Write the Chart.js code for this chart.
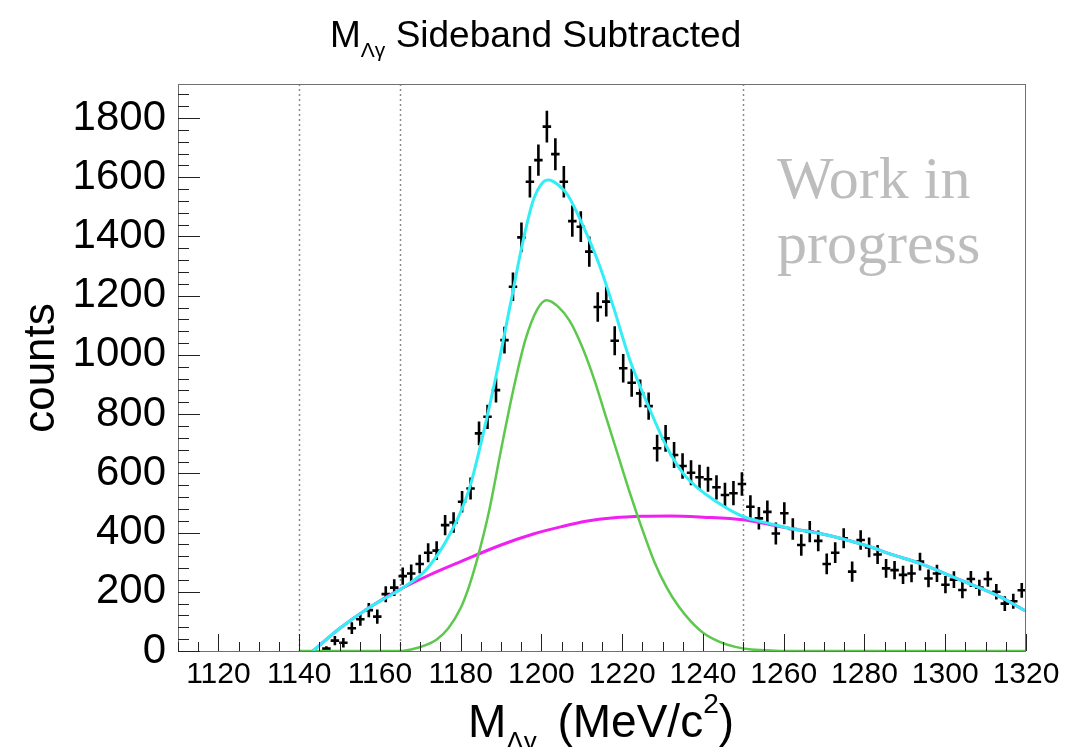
<!DOCTYPE html>
<html>
<head>
<meta charset="utf-8">
<script src="https://cdn.jsdelivr.net/npm/chart.js@4.4.1/dist/chart.umd.min.js"></script>
<style>
  body { margin: 0; background: #fff; }
  #wrap { width: 1069px; height: 747px; }
</style>
</head>
<body>
<div id="wrap"><canvas id="massChart" width="1069" height="747"></canvas></div>
<script>
// histogram: 100 bins of 2.1 MeV between 1110 and 1320, filled from bin 17 on
var histLo = 1110, binWidth = 2.1, firstBin = 17;

var counts = [
  8, 35, 28, 77, 107, 138, 116, 192, 214, 253,
  262, 294, 332, 339, 425, 434, 504, 549, 735, 791,
  881, 1050, 1230, 1397, 1585, 1658, 1771, 1678, 1585, 1452,
  1433, 1349, 1162, 1180, 1048, 955, 906, 870, 827, 685,
  718, 662, 625, 602, 587, 580, 553, 527, 533, 564,
  487, 448, 470, 397, 465, 412, 358, 403, 372, 294,
  332, 381, 268, 375, 350, 326, 279, 273, 257, 262,
  302, 245, 262, 224, 241, 206, 243, 214, 243, 200,
  160, 168, 205
];
var countErrs = [
  8, 16, 16, 20, 22, 24, 24, 27, 28, 29,
  30, 31, 32, 32, 34, 35, 36, 37, 40, 41,
  42, 45, 48, 50, 53, 53, 54, 54, 53, 53,
  52, 51, 50, 50, 49, 48, 47, 47, 46, 45,
  45, 44, 43, 42, 42, 42, 41, 41, 41, 40,
  39, 38, 38, 37, 37, 36, 36, 36, 35, 35,
  35, 34, 34, 33, 33, 32, 32, 31, 31, 30,
  30, 30, 29, 29, 28, 28, 27, 27, 26, 26,
  25, 25, 25
];

// fit curves, read at sample masses
var totalX = [1143.4, 1150, 1157.5, 1165, 1171, 1175, 1178, 1180, 1182.3, 1185.6,
  1188.9, 1192.2, 1195.5, 1198, 1200.5, 1201.8, 1204.2, 1206.5, 1210.4, 1214.5,
  1217.8, 1221.9, 1226.9, 1231, 1235.1, 1239.3, 1243.4, 1247.5, 1250.8, 1256,
  1261.6, 1269, 1274, 1281.4, 1286.3, 1293.7, 1303.7, 1313.6, 1319.8];
var totalY = [0, 76, 148, 208, 268, 340, 412, 470, 555, 735,
  938, 1163, 1388, 1523, 1585, 1591, 1574, 1540, 1433, 1298,
  1163, 983, 814, 690, 600, 544, 504, 470, 450, 432,
  414, 397, 381, 352, 328, 296, 240, 183, 136];

var bkgX = [1143.4, 1150, 1157.5, 1165, 1172, 1180, 1190, 1198, 1205, 1211,
  1218, 1225, 1232, 1240, 1250, 1256, 1261.6, 1269, 1274, 1281.4,
  1286.3, 1293.7, 1303.7, 1313.6, 1319.8];
var bkgY = [0, 76, 148, 208, 255, 302, 358, 395, 420, 438,
  450, 455, 456, 452, 443, 429, 414, 397, 381, 352,
  328, 296, 240, 183, 136];

var sigX = [1140, 1165, 1168, 1171, 1174, 1177, 1180, 1182, 1184, 1187,
  1190, 1193, 1196, 1199, 1201.3, 1204, 1207, 1210, 1213, 1216,
  1219, 1222, 1225, 1228, 1231, 1234, 1237, 1240, 1244, 1248,
  1252, 1258, 1265, 1320];
var sigY = [0, 0, 6, 18, 38, 78, 145, 215, 305, 470,
  680, 880, 1050, 1155, 1185, 1165, 1115, 1030, 920, 790,
  660, 530, 410, 300, 215, 150, 100, 62, 32, 14,
  5, 1, 0, 0];

// sideband / signal window edges
var windowEdges = [1140, 1165, 1250];

var xTicks = [1120, 1140, 1160, 1180, 1200, 1220, 1240, 1260, 1280, 1300, 1320];
var yTicks = [0, 200, 400, 600, 800, 1000, 1200, 1400, 1600, 1800];

var sans = '"Liberation Sans", Arial, Helvetica, sans-serif';

function pairs(xs, ys) {
  return xs.map(function(v, i) { return { x: v, y: ys[i] }; });
}

var histPoints = counts.map(function(c, i) {
  return { x: histLo + binWidth * (firstBin + i + 0.5), y: c, err: countErrs[i] };
});

function drawRich(ctx, parts, x, baseline) {
  parts.forEach(function(p) {
    ctx.font = p.size + 'px ' + sans;
    ctx.fillText(p.t, x, baseline + (p.dy || 0));
    x += ctx.measureText(p.t).width + (p.gap || 0);
  });
}

var rootFrame = {
  id: 'rootFrame',
  beforeDatasetsDraw: function(chart) {
    var ctx = chart.ctx, a = chart.chartArea;
    var xs = chart.scales.x, ys = chart.scales.y;
    ctx.save();
    ctx.beginPath();
    ctx.rect(a.left, a.top, a.right - a.left, a.bottom - a.top);
    ctx.clip();

    // dotted window lines
    ctx.strokeStyle = '#8a8a8a';
    ctx.lineWidth = 1.5;
    ctx.setLineDash([2, 3]);
    windowEdges.forEach(function(m) {
      var px = Math.round(xs.getPixelForValue(m)) + 0.5;
      ctx.beginPath();
      ctx.moveTo(px, a.top);
      ctx.lineTo(px, a.bottom);
      ctx.stroke();
    });
    ctx.setLineDash([]);

    // error bars
    ctx.strokeStyle = '#000';
    ctx.lineWidth = 2.6;
    histPoints.forEach(function(p) {
      var px = xs.getPixelForValue(p.x), py = ys.getPixelForValue(p.y);
      ctx.beginPath();
      ctx.moveTo(xs.getPixelForValue(p.x - binWidth / 2), py);
      ctx.lineTo(xs.getPixelForValue(p.x + binWidth / 2), py);
      ctx.moveTo(px, ys.getPixelForValue(p.y - p.err));
      ctx.lineTo(px, ys.getPixelForValue(p.y + p.err));
      ctx.stroke();
    });
    ctx.restore();
  },
  afterDatasetsDraw: function(chart) {
    var ctx = chart.ctx, a = chart.chartArea;
    var xs = chart.scales.x, ys = chart.scales.y;
    ctx.save();
    ctx.strokeStyle = '#707070';
    ctx.lineWidth = 1;
    ctx.strokeRect(a.left + 0.5, a.top + 0.5, a.right - a.left - 1, a.bottom - a.top);

    ctx.strokeStyle = '#222';
    ctx.beginPath();
    var m, px, py, len;
    for (m = 1110; m <= 1320; m += 5) {
      px = Math.round(xs.getPixelForValue(m)) + 0.5;
      len = (m % 20 === 0) ? 17 : 9;
      ctx.moveTo(px, a.bottom);
      ctx.lineTo(px, a.bottom - len);
    }
    for (m = 0; m <= ys.max; m += 40) {
      py = Math.round(ys.getPixelForValue(m)) + 0.5;
      len = (m % 200 === 0) ? 22 : 11;
      ctx.moveTo(a.left, py);
      ctx.lineTo(a.left + len, py);
    }
    ctx.stroke();
    ctx.restore();
  },
  afterDraw: function(chart) {
    var ctx = chart.ctx;
    ctx.save();
    ctx.fillStyle = '#000';
    ctx.textAlign = 'left';
    ctx.textBaseline = 'alphabetic';

    drawRich(ctx, [
      { t: 'M', size: 37 },
      { t: '\u039B\u03B3', size: 21, dy: 10 },
      { t: ' Sideband Subtracted', size: 37 }
    ], 330, 47);

    drawRich(ctx, [
      { t: 'M', size: 46 },
      { t: '\u039B\u03B3', size: 26, dy: 13, gap: 8 },
      { t: ' (MeV/c', size: 46 },
      { t: '2', size: 28, dy: -24 },
      { t: ')', size: 46 }
    ], 468, 737);

    ctx.save();
    ctx.translate(54, 368);
    ctx.rotate(-Math.PI / 2);
    ctx.textAlign = 'center';
    ctx.font = '44px ' + sans;
    ctx.fillText('counts', 0, 0);
    ctx.restore();

    ctx.fillStyle = '#bdbdbd';
    ctx.font = '60px "Liberation Serif", "Times New Roman", serif';
    ctx.fillText('Work in', 777, 198);
    ctx.fillText('progress', 777, 263);
    ctx.restore();
  }
};

new Chart(document.getElementById('massChart'), {
  type: 'scatter',
  data: {
    datasets: [
      {
        label: 'total fit',
        data: pairs(totalX, totalY),
        showLine: true,
        borderColor: '#33eef5',
        borderWidth: 3,
        pointRadius: 0,
        cubicInterpolationMode: 'monotone'
      },
      {
        label: 'signal',
        data: pairs(sigX, sigY),
        showLine: true,
        borderColor: '#5cc84c',
        borderWidth: 2.5,
        pointRadius: 0,
        cubicInterpolationMode: 'monotone'
      },
      {
        label: 'background',
        data: pairs(bkgX, bkgY),
        showLine: true,
        borderColor: '#f020f0',
        borderWidth: 3,
        pointRadius: 0,
        cubicInterpolationMode: 'monotone'
      },
      {
        label: 'data',
        data: histPoints,
        pointRadius: 0,
        showLine: false
      }
    ]
  },
  options: {
    responsive: false,
    animation: false,
    events: [],
    layout: { padding: { top: 84, right: 43, left: 0, bottom: 0 } },
    plugins: { legend: { display: false }, tooltip: { enabled: false } },
    scales: {
      x: {
        type: 'linear',
        min: 1110,
        max: 1320,
        afterBuildTicks: function(s) { s.ticks = xTicks.map(function(v) { return { value: v }; }); },
        afterFit: function(s) { s.height = 96; },
        grid: { display: false, drawTicks: false },
        border: { display: false },
        ticks: {
          autoSkip: false,
          maxRotation: 0,
          padding: 6,
          color: '#000',
          font: { family: sans, size: 30 },
          callback: function(v) { return String(v); }
        }
      },
      y: {
        type: 'linear',
        min: 0,
        max: 1915,
        afterBuildTicks: function(s) { s.ticks = yTicks.map(function(v) { return { value: v }; }); },
        afterFit: function(s) { s.width = 178; },
        grid: { display: false, drawTicks: false },
        border: { display: false },
        ticks: {
          padding: 12,
          color: '#000',
          font: { family: sans, size: 42 },
          callback: function(v) { return String(v); }
        }
      }
    }
  },
  plugins: [rootFrame]
});
</script>
</body>
</html>
